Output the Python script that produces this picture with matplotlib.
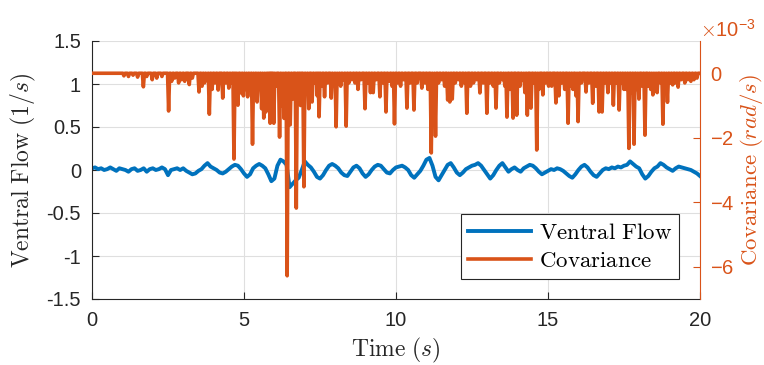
import matplotlib
matplotlib.use("Agg")
import matplotlib.pyplot as plt
from matplotlib.ticker import ScalarFormatter
import numpy as np

plt.rcParams['font.family'] = ['Liberation Sans', 'DejaVu Sans']
plt.rcParams['mathtext.fontset'] = 'cm'
plt.rcParams['axes.unicode_minus'] = False

# ---------------- data ----------------
flow_t0, flow_dt = 0.0, 0.1
flow_values = [
    0.02, 0.03, 0.01, 0.02, 0.00, 0.01, 0.03, 0.01, -0.01, 0.02, 0.01,
    0.00, -0.02, 0.01, 0.02, -0.01, 0.00, 0.02, -0.02, 0.01, 0.02,
    0.00, 0.01, 0.03, 0.01, -0.06, 0.00, 0.01, 0.02, 0.00, 0.02,
    -0.01, -0.03, -0.05, -0.04, -0.01, 0.01, 0.05, 0.08, 0.04, 0.02,
    0.00, -0.03, -0.04, -0.02, 0.01, 0.04, 0.06, 0.05, 0.01, -0.04,
    -0.08, -0.05, 0.02, 0.05, 0.07, 0.05, 0.02, -0.05, -0.13, -0.10,
    0.05, 0.12, 0.10, 0.06, -0.20, -0.16, -0.12, -0.09, 0.00, 0.10,
    0.06, 0.03, -0.02, -0.08, -0.10, -0.06, 0.00, 0.05, 0.07, 0.05,
    0.02, -0.03, -0.06, -0.07, -0.02, 0.03, 0.05, 0.02, -0.04, -0.08,
    -0.05, 0.00, 0.04, 0.06, 0.05, 0.01, -0.03, -0.04, 0.00, 0.03,
    0.04, 0.05, 0.03, 0.00, -0.06, -0.09, -0.05, -0.01, 0.05, 0.12,
    0.14, 0.05, -0.08, -0.12, -0.06, 0.00, 0.06, 0.08, 0.03, -0.03,
    -0.06, -0.03, 0.01, 0.03, 0.05, 0.06, 0.08, 0.05, 0.00, -0.05,
    -0.10, -0.06, 0.00, 0.05, 0.08, 0.03, -0.02, 0.01, 0.03, 0.00,
    -0.02, 0.02, 0.04, 0.06, 0.05, 0.02, -0.02, -0.05, -0.03, -0.01,
    0.01, 0.00, 0.02, 0.01, -0.01, -0.04, -0.07, -0.09, -0.05, 0.00,
    0.04, 0.06, 0.03, -0.02, -0.06, -0.08, -0.04, 0.00, 0.02, 0.01,
    0.03, 0.02, 0.04, 0.03, 0.05, 0.06, 0.10, 0.07, 0.04, 0.02,
    -0.05, -0.10, -0.07, -0.02, 0.02, 0.04, 0.08, 0.06, 0.03, 0.01,
    -0.01, 0.02, 0.04, 0.03, 0.02, 0.01, 0.00, -0.02, -0.04, -0.07,
]

# covariance dips (time in s, value in 1e-3 rad/s); baseline is 0
spike_t = [1.05, 1.2, 1.35, 1.5, 1.69, 1.8, 1.98, 2.13, 2.3, 2.52, 2.62, 2.72, 2.85, 2.95,
           3.05, 3.2, 3.3, 3.52, 3.62, 3.7, 3.78, 3.86, 3.95, 4.05, 4.15, 4.3, 4.4, 4.5, 4.58,
           4.67, 4.73, 4.8, 4.9, 4.98, 5.05, 5.12, 5.2, 5.28, 5.35, 5.43, 5.5, 5.58, 5.65, 5.72,
           5.8, 5.86, 5.92, 5.98, 6.05, 6.17, 6.25, 6.32, 6.42, 6.52, 6.6, 6.72, 6.8, 6.86, 6.97,
           7.05, 7.13, 7.24, 7.33, 7.41, 7.47, 7.55, 7.65, 7.75, 7.87, 7.95, 8.03, 8.1, 8.18,
           8.27, 8.36, 8.45, 8.55, 8.65, 8.75, 8.85, 8.98, 9.07, 9.16, 9.25, 9.35, 9.47, 9.57,
           9.67, 9.77, 9.87, 9.95, 10.05, 10.15, 10.25, 10.36, 10.47, 10.59, 10.7, 10.85, 10.95,
           11.05, 11.16, 11.23, 11.3, 11.4, 11.5, 11.6, 11.7, 11.77, 11.85, 11.95, 12.05, 12.15,
           12.25, 12.33, 12.45, 12.55, 12.65, 12.76, 12.87, 12.99, 13.1, 13.2, 13.29, 13.4, 13.5,
           13.58, 13.65, 13.75, 13.85, 13.97, 14.08, 14.17, 14.24, 14.32, 14.44, 14.54, 14.63,
           14.7, 14.83, 14.92, 15.02, 15.12, 15.26, 15.36, 15.45, 15.55, 15.66, 15.74, 15.82,
           15.92, 15.99, 16.1, 16.25, 16.35, 16.47, 16.57, 16.68, 16.78, 16.87, 16.97, 17.06,
           17.15, 17.25, 17.34, 17.42, 17.5, 17.58, 17.66, 17.75, 17.83, 17.92, 17.99, 18.1,
           18.19, 18.3, 18.38, 18.45, 18.52, 18.59, 18.7, 18.78, 18.86, 18.93, 19.02, 19.1, 19.2,
           19.28, 19.38, 19.5, 19.6, 19.7, 19.8, 19.9]
spike_v = [-0.08, -0.1, -0.06, -0.12, -0.42, -0.1, -0.2, -0.15, -0.1, -1.17, -0.25, -0.15, -0.3, -0.2,
           -0.25, -0.35, -0.15, -0.58, -0.4, -0.3, -0.2, -1.27, -0.5, -0.3, -0.52, -0.77, -0.3, -0.46, -0.3,
           -2.66, -0.6, -0.99, -0.61, -0.7, -0.5, -0.73, -0.4, -2.2, -0.5, -0.89, -0.3, -1.1, -1.39, -1.2,
           -0.6, -1.55, -1.5, -1.55, -0.4, -1.98, -1.0, -1.4, -6.28, -1.6, -0.8, -4.18, -0.6, -1.0, -3.52,
           -0.5, -1.1, -0.89, -0.3, -0.7, -1.35, -0.4, -0.73, -0.3, -0.77, -0.2, -1.66, -0.3, -0.4,
           -0.2, -1.64, -0.3, -0.2, -0.3, -0.5, -0.2, -1.1, -0.3, -0.6, -0.6, -0.2, -0.73, -0.3,
           -1.2, -0.25, -0.4, -1.57, -0.3, -0.4, -0.2, -1.08, -0.3, -1.14, -0.3, -0.46, -0.3,
           -0.5, -2.47, -0.4, -1.95, -0.3, -0.2, -0.4, -0.83, -0.89, -0.8, -0.3, -0.2, -0.4,
           -0.3, -1.24, -0.4, -0.3, -0.2, -0.61, -0.3, -1.24, -0.3, -0.4, -1.08, -0.3, -0.2,
           -0.4, -1.36, -0.5, -1.39, -1.3, -0.4, -0.2, -0.6, -1.3, -1.08, -0.3, -2.38,
           -0.5, -0.67, -0.3, -0.4, -0.4, -0.92, -0.7, -0.3, -0.5, -1.55, -0.4, -0.5,
           -0.7, -1.5, -0.3, -0.58, -0.3, -0.93, -0.4, -1.2, -1.2, -0.3, -0.6, -0.3,
           -0.99, -0.3, -1.14, -0.3, -0.5, -0.5, -2.33, -0.6, -2.2, -0.5, -0.8, -0.4,
           -1.92, -0.4, -0.5, -0.67, -0.3, -0.6, -0.3, -1.58, -0.4, -0.9, -0.3, -0.36, -0.3,
           -0.43, -0.2, -0.3, -0.2, -0.25, -0.2, -0.15]
cov_scale = 1e-3
t_end = 20.0

# ---------------- build series ----------------
flow_t = flow_t0 + flow_dt * np.arange(len(flow_values))
ct, cv = [0.0], [0.0]
hw = 0.035
for t, v in zip(spike_t, spike_v):
    ct += [t - hw, t, t + hw]
    cv += [0.0, v, 0.0]
ct.append(t_end); cv.append(0.0)
cv = np.array(cv) * cov_scale

blue = '#0072BD'
orange = '#D95319'
dark = '#262626'

fig = plt.figure(figsize=(7.64, 3.65), dpi=100)
ax = fig.add_axes([92/764, 66/365, 608/764, 258/365])
ax2 = ax.twinx()

l1, = ax.plot(flow_t, flow_values, color=blue, lw=2.8, label='Ventral Flow')
l2, = ax2.plot(ct, cv, color=orange, lw=2.6, label='Covariance')

ax.set_xlim(0, 20)
ax.set_ylim(-1.5, 1.5)
ax.set_yticks([-1.5, -1, -0.5, 0, 0.5, 1, 1.5])
ax.set_yticklabels(['-1.5', '-1', '-0.5', '0', '0.5', '1', '1.5'])
ax.set_xticks([0, 5, 10, 15, 20])
ax.set_xticklabels(['0', '5', '10', '15', '20'])

ax2.set_ylim(-7e-3, 1e-3)
ax2.set_yticks([-6e-3, -4e-3, -2e-3, 0])
fmt = ScalarFormatter(useMathText=True)
fmt.set_powerlimits((-2, 2))
ax2.yaxis.set_major_formatter(fmt)

ax.grid(True, color='#dfdfdf', lw=0.8)
ax.set_axisbelow(True)

for a in (ax, ax2):
    a.spines['top'].set_visible(False)
ax.spines['left'].set_color(dark)
ax.spines['bottom'].set_color(dark)
ax.spines['right'].set_visible(False)
ax2.spines['left'].set_visible(False)
ax2.spines['bottom'].set_visible(False)
ax2.spines['right'].set_color(orange)

ax.tick_params(axis='both', direction='in', length=5, width=0.8, colors=dark,
               labelsize=14.5, pad=8)
ax.tick_params(axis='x', pad=9)
ax2.tick_params(axis='y', direction='in', length=5, width=0.8, colors=orange,
                labelsize=14.5, pad=7)
off = ax2.yaxis.get_offset_text()
off.set_fontsize(14.5)
off.set_color(orange)
off.set_horizontalalignment('left')

ax.set_xlabel(r'$\mathrm{Time}\ (s)$', fontsize=17, color=dark, labelpad=4)
ax.set_ylabel(r'$\mathrm{Ventral\ Flow}\ (1/s)$', fontsize=17, color=dark, labelpad=6)
ax2.set_ylabel(r'$\mathrm{Covariance}\ (rad/s)$', fontsize=16.5, color=orange, labelpad=3)

leg = ax2.legend([l1, l2], [r'$\mathrm{Ventral\ Flow}$', r'$\mathrm{Covariance}$'],
                 loc='lower right', bbox_to_anchor=(0.966, 0.077), fontsize=16.5,
                 frameon=True, fancybox=False, framealpha=1, edgecolor=dark,
                 handlelength=2.75, borderpad=0.3, labelspacing=0.22, handletextpad=0.35,
                 borderaxespad=0)
leg.get_frame().set_linewidth(0.8)

fig.savefig('out.png', dpi=100)
